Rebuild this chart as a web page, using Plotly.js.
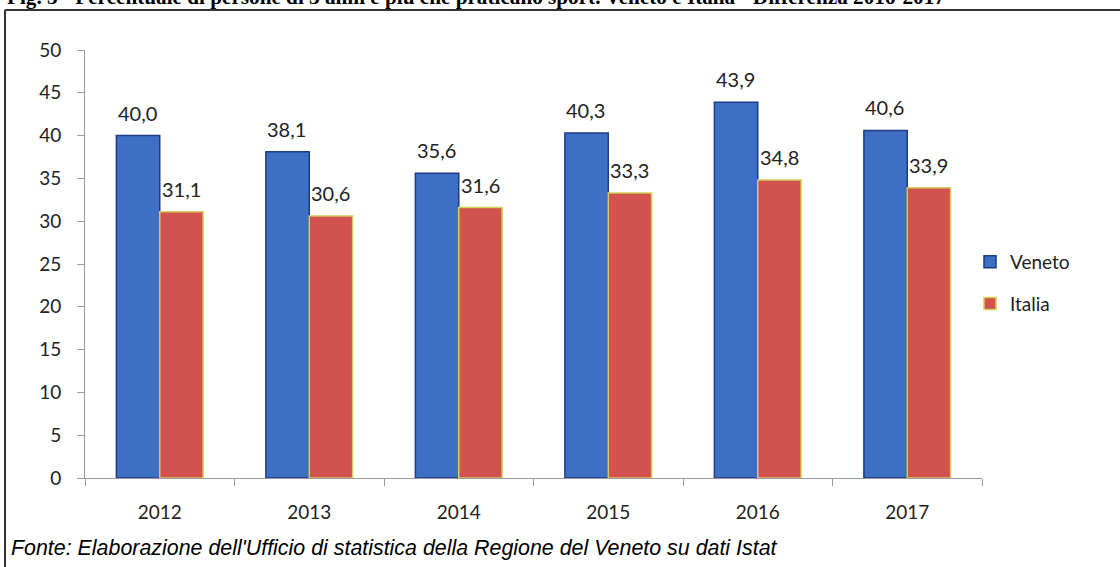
<!DOCTYPE html>
<html>
<head>
<meta charset="utf-8">
<script src="https://cdn.plot.ly/plotly-3.0.1.min.js"></script>
<style>html,body{margin:0;padding:0;background:#fff;}#chart{width:1120px;height:567px;}</style>
</head>
<body>
<div id="chart"></div>
<script>
const years = ['2012', '2013', '2014', '2015', '2016', '2017'];
const veneto = [40.0, 38.1, 35.6, 40.3, 43.9, 40.6];
const italia = [31.1, 30.6, 31.6, 33.3, 34.8, 33.9];
const yTicks = [0, 5, 10, 15, 20, 25, 30, 35, 40, 45, 50];
const titleText = 'Fig. 3 - Percentuale di persone di 3 anni e più che praticano sport. Veneto e Italia - Differenza 2016-2017';
const sourceText = "Fonte: Elaborazione dell'Ufficio di statistica della Regione del Veneto su dati Istat";

const W = 1120, H = 567;
const L = 85, R = 138, T = 50, B = 89;
const pw = W - L - R, ph = H - T - B;
const px = v => (v - L) / pw;
const py = v => (H - B - v) / ph;

const FONT = 'Lato, "Open Sans", sans-serif';
const BARGAP = 0.42;
const halfBar = pw / years.length * (1 - BARGAP) / 4;
const fmt = v => v.toFixed(1).replace('.', ',');

const traces = [
  {type: 'bar', name: 'Veneto', x: years, y: veneto, legendgroup: 'v',
   marker: {color: '#3d70c4', line: {color: '#1c3a86', width: 1.5}}, hoverinfo: 'skip'},
  {type: 'bar', name: 'Italia', x: years, y: italia, legendgroup: 'i',
   marker: {color: '#d25250', line: {color: '#d4cf5a', width: 1.5}}, hoverinfo: 'skip'}
];

const labelAnns = [];
years.forEach((yr, i) => {
  [[veneto[i], -halfBar - 1], [italia[i], halfBar]].forEach(([v, dx]) => {
    labelAnns.push({x: i, y: v, xref: 'x', yref: 'y', text: fmt(v), showarrow: false,
      xanchor: 'center', yanchor: 'bottom', xshift: dx, yshift: 9,
      font: {family: FONT, size: 20, color: '#222'}});
  });
});

const layout = {
  width: W, height: H,
  margin: {l: L, r: R, t: T, b: B, pad: 0},
  paper_bgcolor: '#fff', plot_bgcolor: '#fff',
  separators: ',.',
  barmode: 'group', bargap: BARGAP, bargroupgap: 0,
  showlegend: true,
  legend: {x: px(970), y: py(283), xanchor: 'left', yanchor: 'middle',
           font: {family: FONT, size: 19, color: '#222'},
           tracegroupgap: 14, itemwidth: 30, bgcolor: 'rgba(0,0,0,0)'},
  xaxis: {type: 'category', range: [-0.5, years.length - 0.5], autorange: false,
          showgrid: false, zeroline: false,
          showline: true, linecolor: '#9a9a9a', linewidth: 1,
          ticks: 'outside', tickson: 'boundaries', ticklen: 7, tickcolor: '#9a9a9a',
          ticklabelstandoff: 17,
          tickfont: {family: FONT, size: 19, color: '#222'}},
  yaxis: {range: [0, 50], autorange: false, tickvals: yTicks, ticktext: yTicks.map(String),
          showgrid: false, zeroline: false,
          showline: true, linecolor: '#9a9a9a', linewidth: 1,
          ticks: 'outside', ticklen: 7, tickcolor: '#9a9a9a',
          ticklabelstandoff: 12,
          tickfont: {family: FONT, size: 19, color: '#222'}},
  annotations: [
    {text: titleText, xref: 'paper', yref: 'paper', x: px(5), y: py(11),
     xanchor: 'left', yanchor: 'bottom', showarrow: false,
     font: {family: '"Liberation Serif", serif', size: 21.2, color: '#000', weight: 'bold'}},
    {text: '<i>' + sourceText + '</i>', xref: 'paper', yref: 'paper', x: px(9), y: py(548),
     xanchor: 'left', yanchor: 'middle', showarrow: false,
     font: {family: '"Liberation Sans", Arial, sans-serif', size: 21.4, color: '#000'}}
  ].concat(labelAnns),
  shapes: [
    {type: 'line', xref: 'paper', yref: 'paper', x0: px(5), x1: px(1120), y0: py(10), y1: py(10),
     line: {color: '#333', width: 2}},
    {type: 'line', xref: 'paper', yref: 'paper', x0: px(5), x1: px(5), y0: py(10), y1: py(567),
     line: {color: '#333', width: 2}}
  ]
};

Plotly.newPlot('chart', traces, layout, {displayModeBar: false, staticPlot: true});
</script>
</body>
</html>
